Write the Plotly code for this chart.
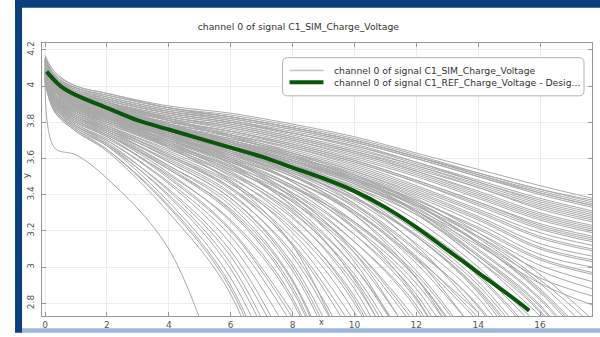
import plotly.graph_objects as go

# ---------------- data ----------------
GRID_X = [0, 0.3, 1, 2, 4, 6, 8, 10, 12, 14, 16, 17.7]

SIM_CURVES = [
    # long curves reaching the right edge
    [4.16, 4.07, 4.00, 3.96, 3.89, 3.85, 3.79, 3.72, 3.63, 3.54, 3.45, 3.38],
    [4.17, 4.08, 4.00, 3.96, 3.88, 3.83, 3.77, 3.70, 3.61, 3.52, 3.43, 3.37],
    [4.16, 4.06, 3.99, 3.95, 3.88, 3.84, 3.78, 3.71, 3.62, 3.52, 3.43, 3.36],
    [4.15, 4.06, 3.99, 3.94, 3.87, 3.83, 3.77, 3.70, 3.61, 3.51, 3.42, 3.35],
    [4.16, 4.06, 3.99, 3.95, 3.88, 3.83, 3.77, 3.70, 3.61, 3.51, 3.41, 3.34],
    [4.15, 4.06, 3.98, 3.93, 3.86, 3.82, 3.76, 3.69, 3.60, 3.50, 3.41, 3.34],
    [4.15, 4.05, 3.98, 3.94, 3.87, 3.82, 3.76, 3.69, 3.60, 3.50, 3.40, 3.33],
    [4.15, 4.05, 3.98, 3.93, 3.86, 3.81, 3.75, 3.68, 3.58, 3.48, 3.38, 3.31],
    [4.15, 4.05, 3.97, 3.93, 3.86, 3.81, 3.74, 3.67, 3.58, 3.47, 3.37, 3.30],
    [4.14, 4.05, 3.97, 3.92, 3.85, 3.80, 3.74, 3.67, 3.57, 3.47, 3.36, 3.29],
    [4.14, 4.04, 3.96, 3.92, 3.85, 3.80, 3.74, 3.66, 3.56, 3.46, 3.35, 3.28],
    [4.14, 4.04, 3.97, 3.92, 3.85, 3.80, 3.73, 3.65, 3.56, 3.45, 3.34, 3.27],
    [4.14, 4.04, 3.96, 3.91, 3.84, 3.79, 3.72, 3.64, 3.55, 3.44, 3.33, 3.26],
    [4.15, 4.04, 3.96, 3.91, 3.84, 3.79, 3.72, 3.64, 3.54, 3.44, 3.32, 3.25],
    [4.14, 4.04, 3.96, 3.91, 3.83, 3.78, 3.71, 3.63, 3.53, 3.42, 3.30, 3.23],
    [4.13, 4.03, 3.95, 3.90, 3.83, 3.78, 3.71, 3.63, 3.53, 3.41, 3.29, 3.22],
    [4.13, 4.03, 3.95, 3.90, 3.83, 3.77, 3.70, 3.62, 3.52, 3.40, 3.28, 3.21],
    [4.13, 4.03, 3.95, 3.90, 3.82, 3.77, 3.70, 3.61, 3.51, 3.39, 3.27, 3.20],
    [4.14, 4.03, 3.95, 3.89, 3.82, 3.76, 3.69, 3.60, 3.50, 3.38, 3.26, 3.19],
    [4.13, 4.03, 3.94, 3.89, 3.81, 3.75, 3.68, 3.59, 3.48, 3.36, 3.24, 3.17],
    [4.13, 4.02, 3.94, 3.89, 3.81, 3.75, 3.68, 3.59, 3.48, 3.36, 3.23, 3.16],
    [4.12, 4.02, 3.93, 3.88, 3.80, 3.75, 3.67, 3.58, 3.47, 3.35, 3.22, 3.15],
    [4.13, 4.02, 3.94, 3.88, 3.80, 3.74, 3.67, 3.58, 3.47, 3.34, 3.21, 3.14],
    [4.14, 4.02, 3.93, 3.87, 3.79, 3.73, 3.66, 3.57, 3.45, 3.32, 3.19, 3.12],
    [4.12, 4.02, 3.93, 3.87, 3.79, 3.73, 3.66, 3.56, 3.44, 3.31, 3.17, 3.10],
    [4.12, 4.02, 3.93, 3.87, 3.79, 3.73, 3.65, 3.55, 3.43, 3.30, 3.16, 3.09],
    [4.13, 4.01, 3.92, 3.86, 3.78, 3.72, 3.64, 3.54, 3.42, 3.28, 3.13, 3.06],
    [4.12, 4.01, 3.92, 3.86, 3.78, 3.71, 3.63, 3.53, 3.41, 3.27, 3.11, 3.04],
    [4.12, 4.01, 3.92, 3.85, 3.77, 3.71, 3.63, 3.53, 3.40, 3.26, 3.10, 3.03],
    [4.13, 4.01, 3.91, 3.85, 3.77, 3.70, 3.62, 3.52, 3.39, 3.24, 3.07, 3.00],
    [4.11, 4.00, 3.91, 3.85, 3.76, 3.70, 3.61, 3.51, 3.37, 3.22, 3.05, 2.97],
    [4.12, 4.00, 3.91, 3.84, 3.76, 3.69, 3.61, 3.50, 3.37, 3.21, 3.04, 2.96],
    [4.11, 4.00, 3.90, 3.84, 3.75, 3.69, 3.60, 3.49, 3.35, 3.19, 3.01, 2.92],
    [4.12, 4.00, 3.90, 3.83, 3.75, 3.68, 3.59, 3.48, 3.34, 3.17, 2.98, 2.88],
    [4.11, 3.99, 3.89, 3.83, 3.74, 3.67, 3.58, 3.47, 3.32, 3.14, 2.94, 2.84],
    [4.12, 3.99, 3.89, 3.82, 3.73, 3.66, 3.57, 3.46, 3.31, 3.12, 2.91, 2.79],
    # curves ending inside the plot
    [4.11, 4.02, 3.94, 3.88, 3.79, 3.70, 3.61, 3.51, 3.38, 3.19, 2.96, 2.71],
    [4.09, 3.98, 3.90, 3.84, 3.75, 3.67, 3.59, 3.49, 3.36, 3.17, 2.93, 2.68],
    [4.10, 4.01, 3.93, 3.88, 3.78, 3.70, 3.61, 3.50, 3.36, 3.16, 2.91, 2.63],
    [4.12, 4.01, 3.93, 3.88, 3.78, 3.69, 3.60, 3.49, 3.34, 3.13, 2.87, 2.56],
    [4.10, 4.00, 3.93, 3.87, 3.78, 3.69, 3.59, 3.48, 3.33, 3.10, 2.83, 2.49],
    [4.08, 3.97, 3.89, 3.83, 3.73, 3.65, 3.56, 3.45, 3.31, 3.09, 2.82, 2.47],
    [4.11, 4.00, 3.93, 3.87, 3.77, 3.68, 3.59, 3.47, 3.31, 3.07, 2.79, 2.41],
    [4.14, 4.04, 3.96, 3.91, 3.81, 3.72, 3.62, 3.49, 3.31, 3.06, 2.76, 2.35],
    [4.10, 4.00, 3.92, 3.87, 3.77, 3.68, 3.58, 3.46, 3.29, 3.04, 2.75, 2.30],
    [4.09, 3.99, 3.92, 3.87, 3.77, 3.67, 3.57, 3.44, 3.26, 3.00, 2.67],
    [4.07, 3.96, 3.88, 3.82, 3.72, 3.63, 3.53, 3.41, 3.23, 2.98, 2.64],
    [4.11, 4.00, 3.92, 3.87, 3.76, 3.67, 3.56, 3.43, 3.23, 2.96, 2.59],
    [4.09, 3.98, 3.90, 3.85, 3.74, 3.65, 3.54, 3.41, 3.22, 2.95, 2.57],
    [4.10, 3.99, 3.91, 3.86, 3.76, 3.66, 3.55, 3.41, 3.20, 2.92, 2.51],
    [4.08, 3.97, 3.89, 3.84, 3.74, 3.64, 3.53, 3.38, 3.17, 2.88, 2.45],
    [4.09, 3.99, 3.91, 3.86, 3.76, 3.66, 3.54, 3.39, 3.17, 2.87, 2.43],
    [4.10, 3.99, 3.91, 3.86, 3.75, 3.65, 3.53, 3.37, 3.13, 2.83, 2.34],
    [4.07, 3.96, 3.88, 3.83, 3.72, 3.62, 3.50, 3.34, 3.09, 2.79, 2.28],
    [4.09, 3.98, 3.91, 3.86, 3.75, 3.64, 3.52, 3.35, 3.10, 2.78, 2.25],
    [4.13, 4.03, 3.95, 3.90, 3.79, 3.69, 3.56, 3.39, 3.12, 2.75],
    [4.10, 3.98, 3.90, 3.86, 3.74, 3.63, 3.51, 3.33, 3.06, 2.72],
    [4.08, 3.96, 3.88, 3.83, 3.72, 3.61, 3.48, 3.30, 3.04, 2.70],
    [4.08, 3.98, 3.90, 3.85, 3.74, 3.63, 3.50, 3.31, 3.02, 2.63],
    [4.09, 3.98, 3.90, 3.85, 3.73, 3.62, 3.48, 3.29, 2.98, 2.54],
    [4.07, 3.95, 3.87, 3.82, 3.70, 3.59, 3.45, 3.24, 2.94, 2.47],
    [4.08, 3.97, 3.90, 3.85, 3.73, 3.61, 3.47, 3.25, 2.94, 2.44],
    [4.06, 3.95, 3.87, 3.82, 3.70, 3.58, 3.44, 3.22, 2.91, 2.42],
    [4.12, 4.02, 3.94, 3.89, 3.77, 3.66, 3.51, 3.29, 2.94, 2.38],
    [4.09, 3.97, 3.89, 3.85, 3.72, 3.60, 3.45, 3.21, 2.88, 2.35],
    [4.08, 3.97, 3.89, 3.84, 3.72, 3.59, 3.43, 3.18, 2.82, 2.20],
    [4.05, 3.94, 3.86, 3.81, 3.68, 3.55, 3.39, 3.14, 2.79, 2.15],
    [4.07, 3.97, 3.89, 3.84, 3.71, 3.58, 3.41, 3.14, 2.77, 2.10],
    [4.06, 3.94, 3.86, 3.80, 3.67, 3.54, 3.37, 3.10, 2.71],
    [4.08, 3.96, 3.88, 3.84, 3.71, 3.57, 3.39, 3.10, 2.68],
    [4.07, 3.96, 3.88, 3.83, 3.70, 3.56, 3.36, 3.05, 2.58],
    [4.05, 3.93, 3.85, 3.79, 3.66, 3.52, 3.32, 3.00, 2.50],
    [4.08, 3.96, 3.88, 3.83, 3.69, 3.55, 3.34, 3.00, 2.47],
    [4.10, 4.00, 3.92, 3.87, 3.73, 3.59, 3.38, 3.03, 2.45],
    [4.07, 3.95, 3.87, 3.82, 3.69, 3.53, 3.31, 2.94, 2.35],
    [4.04, 3.93, 3.84, 3.78, 3.64, 3.49, 3.27, 2.91, 2.30],
    [4.06, 3.95, 3.87, 3.82, 3.68, 3.52, 3.28, 2.88, 2.20],
    [4.07, 3.95, 3.87, 3.81, 3.67, 3.50, 3.24, 2.82, 2.10],
    [4.05, 3.92, 3.83, 3.77, 3.62, 3.46, 3.21, 2.80, 2.05],
    [4.06, 3.94, 3.86, 3.80, 3.66, 3.48, 3.19, 2.75, 2.00],
    [4.04, 3.92, 3.83, 3.76, 3.61, 3.44, 3.16, 2.70],
    [4.06, 3.94, 3.85, 3.78, 3.62, 3.44, 3.12, 2.60],
    [4.05, 3.91, 3.82, 3.75, 3.59, 3.40, 3.08, 2.50],
    [4.07, 3.93, 3.84, 3.77, 3.60, 3.41, 3.06, 2.45],
    [4.09, 3.98, 3.89, 3.83, 3.66, 3.47, 3.12, 2.40],
    [4.06, 3.93, 3.83, 3.76, 3.58, 3.38, 3.00, 2.30],
    [4.04, 3.91, 3.81, 3.74, 3.56, 3.36, 2.98, 2.25],
    [4.05, 3.92, 3.83, 3.75, 3.56, 3.34, 2.93, 2.10],
    [4.03, 3.90, 3.80, 3.73, 3.54, 3.32, 2.92, 2.05],
    [4.06, 3.92, 3.82, 3.74, 3.54, 3.30, 2.87, 2.00],
    [4.04, 3.89, 3.79, 3.71, 3.51, 3.26, 2.83, 1.90],
    [4.05, 3.91, 3.81, 3.73, 3.52, 3.25, 2.81, 1.90],
    [4.05, 3.90, 3.80, 3.72, 3.49, 3.20, 2.72],
    [4.03, 3.89, 3.78, 3.70, 3.47, 3.17, 2.68],
    [4.04, 3.90, 3.79, 3.70, 3.46, 3.13, 2.60],
    [4.02, 3.88, 3.77, 3.68, 3.43, 3.09, 2.50],
    [4.05, 3.89, 3.78, 3.69, 3.42, 3.06, 2.45],
    [4.03, 3.87, 3.76, 3.67, 3.40, 3.02, 2.35],
    [4.04, 3.88, 3.78, 3.68, 3.39, 2.99, 2.30],
    [4.04, 3.87, 3.77, 3.67, 3.36, 2.94, 2.20],
    [4.02, 3.86, 3.75, 3.65, 3.34, 2.90, 2.05],
    [4.03, 3.87, 3.76, 3.65, 3.33, 2.88, 2.00],
    [4.03, 3.86, 3.75, 3.64, 3.30, 2.85, 1.90],
    # lower-level variants
    [4.08, 3.97, 3.89, 3.83, 3.74, 3.66, 3.58, 3.48, 3.34, 3.14, 2.88, 2.58],
    [4.07, 3.96, 3.88, 3.82, 3.72, 3.64, 3.55, 3.44, 3.29, 3.06, 2.78, 2.40],
    [4.06, 3.95, 3.87, 3.81, 3.71, 3.62, 3.52, 3.38, 3.18, 2.90, 2.48],
    [4.07, 3.95, 3.86, 3.81, 3.70, 3.60, 3.48, 3.31, 3.05, 2.75],
    [4.06, 3.94, 3.86, 3.80, 3.69, 3.58, 3.44, 3.25, 2.96, 2.52],
    [4.05, 3.94, 3.85, 3.80, 3.68, 3.56, 3.41, 3.18, 2.85, 2.25],
    [4.06, 3.93, 3.85, 3.79, 3.67, 3.54, 3.36, 3.08, 2.65],
    [4.05, 3.93, 3.84, 3.78, 3.65, 3.51, 3.30, 2.96, 2.40],
    [4.04, 3.92, 3.83, 3.77, 3.63, 3.47, 3.23, 2.84, 2.15],
    [4.05, 3.92, 3.83, 3.76, 3.61, 3.43, 3.13, 2.65],
    [4.04, 3.91, 3.82, 3.75, 3.58, 3.38, 3.02, 2.35],
    [4.03, 3.90, 3.81, 3.73, 3.55, 3.31, 2.89, 2.00],
    [4.04, 3.90, 3.80, 3.72, 3.50, 3.21, 2.75],
    # higher-level variants
    [4.14, 4.04, 3.96, 3.91, 3.82, 3.73, 3.63, 3.51, 3.35, 3.13, 2.86, 2.54],
    [4.13, 4.03, 3.95, 3.90, 3.81, 3.72, 3.61, 3.48, 3.30, 3.04, 2.73],
    [4.13, 4.02, 3.94, 3.89, 3.79, 3.69, 3.57, 3.41, 3.17, 2.86, 2.38],
    [4.12, 4.02, 3.94, 3.89, 3.78, 3.67, 3.54, 3.35, 3.05, 2.62],
    [4.11, 4.01, 3.93, 3.88, 3.76, 3.64, 3.47, 3.22, 2.83, 2.20],
    [4.11, 4.00, 3.92, 3.87, 3.74, 3.60, 3.40, 3.08, 2.56],
    [4.10, 4.00, 3.91, 3.86, 3.72, 3.57, 3.33, 2.93, 2.25],
    # early-drop outlier
    [4.08, 3.66, 3.62, 3.49, 3.10, 2.20],
]

REF_X = [0.05, 0.5, 1, 2, 3, 4, 5, 6, 7, 8, 9, 10, 11, 12, 13, 14, 15, 15.65]
REF_Y = [4.08, 4.00, 3.95, 3.88, 3.81, 3.76, 3.71, 3.66, 3.61, 3.55, 3.49, 3.42, 3.33, 3.22, 3.095, 2.97, 2.845, 2.76]

X_TICKS = [0, 2, 4, 6, 8, 10, 12, 14, 16]
Y_TICKS = [2.8, 3.0, 3.2, 3.4, 3.6, 3.8, 4.0, 4.2]
Y_TICK_LABELS = ["2.8", "3", "3.2", "3.4", "3.6", "3.8", "4", "4.2"]

SIM_NAME = "channel 0 of signal C1_SIM_Charge_Voltage"
REF_NAME = "channel 0 of signal C1_REF_Charge_Voltage - Desig..."
TITLE = "channel 0 of signal C1_SIM_Charge_Voltage"

# ---------------- figure ----------------
W, H = 600, 337
ML, MR, MT, MB = 42, 7, 43, 15
PW, PH = W - ML - MR, H - MT - MB
FONT = "DejaVu Sans"
GREY = "#a9a9a9"
GREEN = "#0a560a"


def px(xp):
    return (xp - ML) / PW


def py(yp):
    return (H - MB - yp) / PH


fig = go.Figure()
for i, row in enumerate(SIM_CURVES):
    fig.add_trace(go.Scatter(
        x=GRID_X[:len(row)], y=row, mode="lines",
        line=dict(color=GREY, width=1, shape="spline"),
        name=SIM_NAME, showlegend=False, hoverinfo="skip"))

fig.add_trace(go.Scatter(
    x=REF_X, y=REF_Y, mode="lines",
    line=dict(color=GREEN, width=4, shape="spline"),
    name=REF_NAME, showlegend=False, hoverinfo="skip"))

# rounded legend box
x0, x1 = px(283), px(585)
yt, yb = py(58), py(97)
rx, ry = 5 / PW, 5 / PH
path = (f"M {x0+rx},{yt} L {x1-rx},{yt} Q {x1},{yt} {x1},{yt-ry} "
        f"L {x1},{yb+ry} Q {x1},{yb} {x1-rx},{yb} L {x0+rx},{yb} "
        f"Q {x0},{yb} {x0},{yb+ry} L {x0},{yt-ry} Q {x0},{yt} {x0+rx},{yt} Z")

shapes = [
    dict(type="path", path=path, xref="paper", yref="paper",
         line=dict(color="#b4b4b4", width=1), fillcolor="white", layer="above"),
    # legend samples
    dict(type="line", xref="paper", yref="paper", x0=px(290), x1=px(324),
         y0=py(71), y1=py(71), line=dict(color="#c4c4c4", width=1.5), layer="above"),
    dict(type="line", xref="paper", yref="paper", x0=px(290), x1=px(324),
         y0=py(83), y1=py(83), line=dict(color=GREEN, width=4), layer="above"),
    # dark blue frame
    dict(type="rect", xref="paper", yref="paper", x0=px(15), x1=px(22),
         y0=py(H + 2), y1=py(-2), fillcolor="#0b3f7d", line=dict(width=0), layer="above"),
    dict(type="rect", xref="paper", yref="paper", x0=px(15), x1=px(W + 2),
         y0=py(7), y1=py(-2), fillcolor="#0b3f7d", line=dict(width=0), layer="above"),
    dict(type="rect", xref="paper", yref="paper", x0=px(22), x1=px(W + 2),
         y0=py(H + 2), y1=py(H - 2.5), fillcolor="#9bb7dc", line=dict(width=0), layer="above"),
]

LEG_FONT = dict(family=FONT, size=9.25, color="#333")

fig.update_layout(
    width=W, height=H,
    margin=dict(l=ML, r=MR, t=MT, b=MB, pad=0),
    paper_bgcolor="white", plot_bgcolor="white",
    font=dict(family=FONT, size=9, color="#444"),
    title=dict(text=TITLE, x=px(316), xanchor="center", y=1 - 27 / H, yanchor="middle",
               font=dict(family=FONT, size=9.25, color="#333")),
    showlegend=False,
    shapes=shapes,
    annotations=[
        dict(text=SIM_NAME, x=px(333), y=py(71), xref="paper", yref="paper",
             xanchor="left", yanchor="middle", showarrow=False, font=LEG_FONT),
        dict(text=REF_NAME, x=px(333), y=py(83), xref="paper", yref="paper",
             xanchor="left", yanchor="middle", showarrow=False, font=LEG_FONT),
        dict(text="y", x=px(26), y=py(178), xref="paper", yref="paper",
             xanchor="center", yanchor="middle",
             showarrow=False, textangle=-90, font=dict(family=FONT, size=9, color="#444")),
        dict(text="x", x=px(322), y=py(328.5), xref="paper", yref="paper",
             xanchor="center", yanchor="middle",
             showarrow=False, font=dict(family=FONT, size=8, color="#444")),
    ],
)

fig.update_xaxes(range=[-0.1, 17.68], tickvals=X_TICKS, ticks="inside", ticklen=4,
                 tickcolor="#999", showline=True, linecolor="#999", linewidth=1,
                 mirror="ticks", showgrid=True, gridcolor="#ececec", zeroline=False,
                 tickfont=dict(family=FONT, size=9, color="#555"))
fig.update_yaxes(range=[2.73, 4.238], tickvals=Y_TICKS, ticktext=Y_TICK_LABELS,
                 tickangle=-90, ticks="inside", ticklen=4, ticklabelstandoff=3,
                 tickcolor="#999", showline=True, linecolor="#999", linewidth=1,
                 mirror="ticks", showgrid=True, gridcolor="#ececec", zeroline=False,
                 tickfont=dict(family=FONT, size=9, color="#555"))

fig.write_html("out.html")
